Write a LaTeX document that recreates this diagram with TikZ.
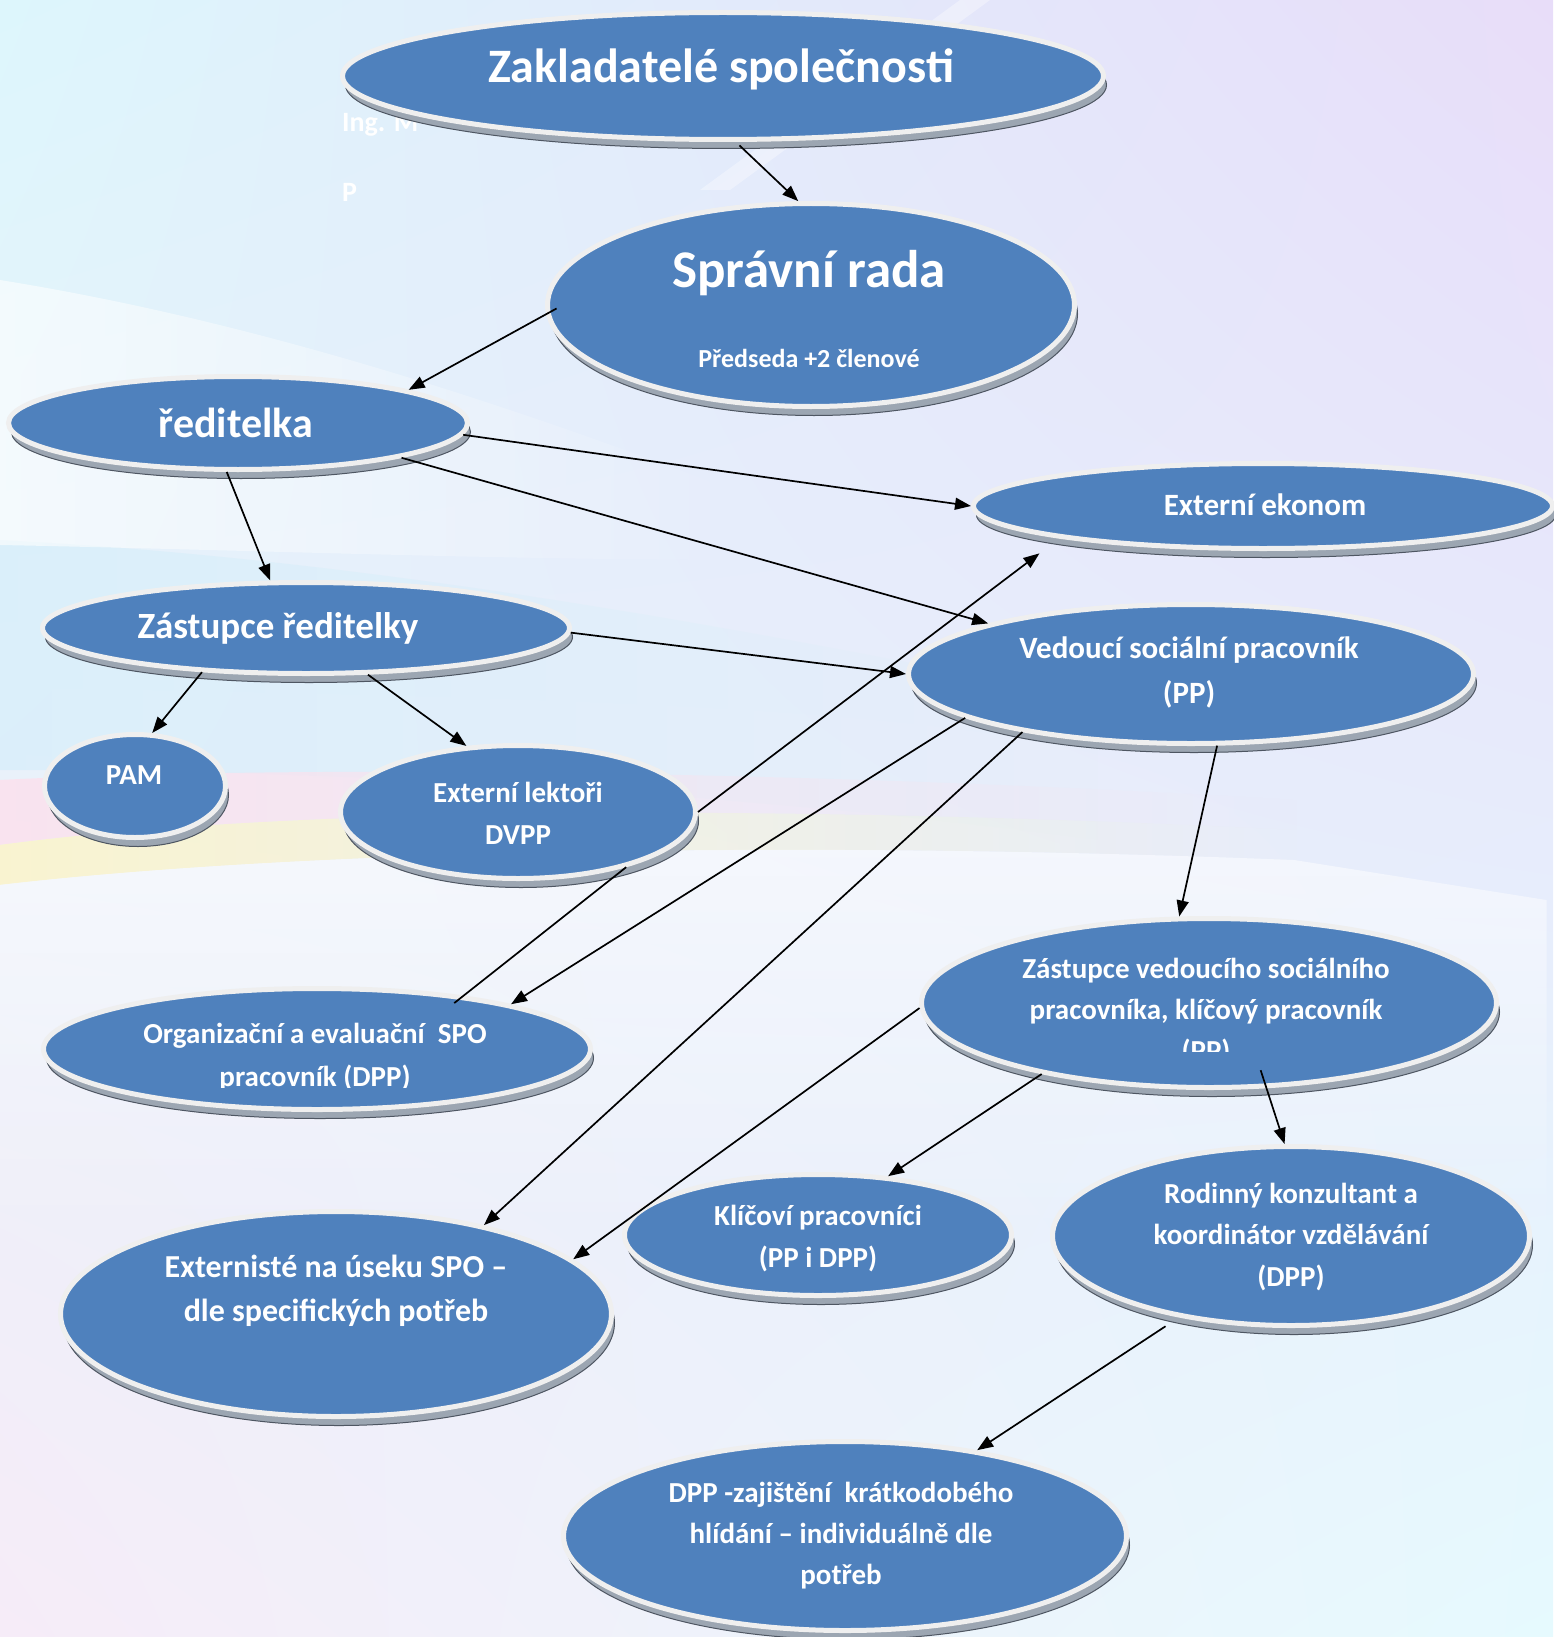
\documentclass[tikz,border=0pt]{standalone}
\usepackage{fontspec}
\setmainfont{Carlito}
\usetikzlibrary{shapes.geometric,arrows.meta,shadings,fadings}
\definecolor{ovalblue}{HTML}{4F81BD}
\definecolor{rimgray}{HTML}{EFEFEF}
\definecolor{shadowgray}{HTML}{9CA6B2}
\definecolor{shadowdark}{HTML}{4E5662}
\definecolor{bgUL}{HTML}{DDF6FC}
\definecolor{bgUR}{HTML}{E8DDF9}
\definecolor{bgLL}{HTML}{F6ECF8}
\definecolor{bgLR}{HTML}{E6FAFE}
\definecolor{pinkband}{HTML}{FBE2EE}
\definecolor{yellowband}{HTML}{FBF4CC}
\definecolor{blueband}{HTML}{D6EEFA}
\newcommand\myfs[2]{\fontsize{#1}{#2}\selectfont\bfseries}
\begin{document}
\begin{tikzpicture}[x=1pt,y=-1pt,
  oval/.style={ellipse, inner sep=0pt, fill=ovalblue, draw=rimgray, line width=5pt,
    preaction={fill=shadowgray, draw=shadowdark, line width=1pt,
      transform canvas={xshift=3pt,yshift=-9pt}}},
  txt/.style={text=white, align=center, inner sep=0pt},
  arr/.style={-{Triangle[length=16pt,width=12pt]}, line width=1.7pt},
  plainline/.style={line width=1.7pt}]
\useasboundingbox (0,0) rectangle (1553,1637);
% background
\shade[upper left=bgUL, upper right=bgUR, lower left=bgLL, lower right=bgLR] (0,0) rectangle (1553,1637);
\fill[blueband, opacity=.7, path fading=east] (0,540) .. controls (400,560) and (800,640) .. (1100,700) -- (1100,840) .. controls (800,800) and (400,770) .. (0,770) -- cycle;
\fill[white, opacity=.6, path fading=east] (0,280) .. controls (250,320) and (500,400) .. (760,500) -- (760,560) .. controls (500,560) and (250,550) .. (0,545) -- cycle;
\fill[pinkband, opacity=.9, path fading=east] (0,780) .. controls (300,765) and (800,770) .. (1300,800) -- (1300,830) .. controls (800,805) and (300,805) .. (0,845) -- cycle;
\fill[yellowband, opacity=.9, path fading=east] (0,845) .. controls (300,805) and (800,805) .. (1300,830) -- (1300,860) .. controls (800,840) and (300,850) .. (0,885) -- cycle;
\fill[white, opacity=.55, path fading=south] (0,885) .. controls (300,850) and (800,840) .. (1300,860) -- (1553,900) -- (1553,1250) -- (0,1250) -- cycle;
\fill[white, opacity=.35] (700,190) -- (960,0) -- (990,0) -- (730,190) -- cycle;
% hidden texts
\node[txt, anchor=west, font=\myfs{28}{32}] (ing) at (342,125) {Ing. M};
\node[txt, anchor=west, font=\myfs{28}{32}] (pp) at (342,192) {P};
% ovals
\node[oval, minimum width=761pt, minimum height=127pt] (zakl) at (723,76) {};
\node[oval, minimum width=527pt, minimum height=203pt] (sprava) at (811,305) {};
\node[oval, minimum width=459pt, minimum height=93pt] (redit) at (238,423) {};
\node[oval, minimum width=579pt, minimum height=85pt] (ekon) at (1263,506) {};
\node[oval, minimum width=527pt, minimum height=91pt] (zastR) at (306,628) {};
\node[oval, minimum width=565pt, minimum height=139pt] (ved) at (1191,674) {};
\node[oval, minimum width=181pt, minimum height=103pt] (pam) at (135,786) {};
\node[oval, minimum width=355pt, minimum height=133pt] (lekt) at (518,812) {};
\node[oval, minimum width=575pt, minimum height=169pt] (zastV) at (1209,1003) {};
\node[oval, minimum width=547pt, minimum height=121pt] (org) at (317,1049) {};
\node[oval, minimum width=387pt, minimum height=121pt] (klic) at (818,1235) {};
\node[oval, minimum width=477pt, minimum height=179pt] (rod) at (1291,1236) {};
\node[oval, minimum width=551pt, minimum height=205pt] (ext) at (336,1314) {};
\node[oval, minimum width=563pt, minimum height=189pt] (dpp) at (845,1536) {};
% texts
\node[txt, font=\myfs{48}{56}] (zaklT) at (721,69) {Zakladatelé společnosti};
\node[txt, font=\myfs{53}{60}] (spravaT) at (809,273) {Správní rada};
\node[txt, font=\myfs{26}{30}] (predT) at (809,358) {Předseda +2 členové};
\node[txt, font=\myfs{42}{48}] (reditT) at (236,423) {ředitelka};
\node[txt, font=\myfs{31}{36}] (ekonT) at (1265,505) {Externí ekonom};
\node[txt, font=\myfs{37}{42}] (zastRT) at (278,628) {Zástupce ředitelky};
\node[txt, font=\myfs{31}{45}] (vedT) at (1189,672) {Vedoucí sociální pracovník\\(PP)};
\node[txt, font=\myfs{29}{34}] (pamT) at (134,775) {PAM};
\node[txt, font=\myfs{29}{42}] (lektT) at (518,813) {Externí lektoři\\DVPP};
\begin{scope}
\clip (900,930) rectangle (1520,1051);
\node[txt, font=\myfs{29}{41}] (zastVT) at (1206,1012) {Zástupce vedoucího sociálního\\pracovníka, klíčový pracovník\\(PP)};
\end{scope}
\begin{scope}
\clip (40,990) rectangle (600,1087);
\node[txt, font=\myfs{29}{43}] (orgT) at (315,1057) {Organizační a evaluační\ \ SPO\\pracovník (DPP)};
\end{scope}
\node[txt, font=\myfs{29}{42}] (klicT) at (818,1239) {Klíčoví pracovníci\\(PP i DPP)};
\node[txt, font=\myfs{29}{41.5}] (rodT) at (1291,1237) {Rodinný konzultant a\\koordinátor vzdělávání\\(DPP)};
\node[txt, font=\myfs{32}{44}] (extT) at (336,1291) {Externisté na úseku SPO –\\dle specifických potřeb};
\node[txt, font=\myfs{29}{41}] (dppT) at (841,1536) {DPP -zajištění\ \ krátkodobého\\hlídání – individuálně dle\\potřeb};
% connectors
\draw[arr, shorten <=5pt] (zakl.-79.8) -- (sprava.97.9);
\draw[arr, shorten <=-12pt] (sprava.182) -- (redit.11.6);
\draw[arr] (redit.-103) -- (zastR.127.4);
\draw[arr] (redit.-3.8) -- (ekon.180);
\draw[arr] (redit.-12.3) -- (ved.166.4);
\draw[arr] (zastR.-1.6) -- (ved.180);
\draw[arr] (zastR.-157.3) -- (pam.72.8);
\draw[arr] (zastR.-37) -- (lekt.128.5);
\draw[arr, shorten >=25pt] (lekt.0.9) -- (ekon.-171.7);
\draw[arr] (ved.-169.7) -- (org.13.7);
\draw[plainline, shorten >=-12pt] (lekt.-27.8) -- (org.20.1);
\draw[arr] (ved.-161.6) -- (ext.31.9);
\draw[arr] (ved.-70.1) -- (zastV.109);
\draw[arr] (zastV.-179) -- (ext.13.3);
\draw[arr] (zastV.-157.3) -- (klic.40.2);
\draw[arr, shorten <=-19pt] (zastV.-56.2) -- (rod.94.2);
\draw[arr, shorten <=16pt] (rod.-144.4) -- (dpp.33.6);
\end{tikzpicture}
\end{document}
